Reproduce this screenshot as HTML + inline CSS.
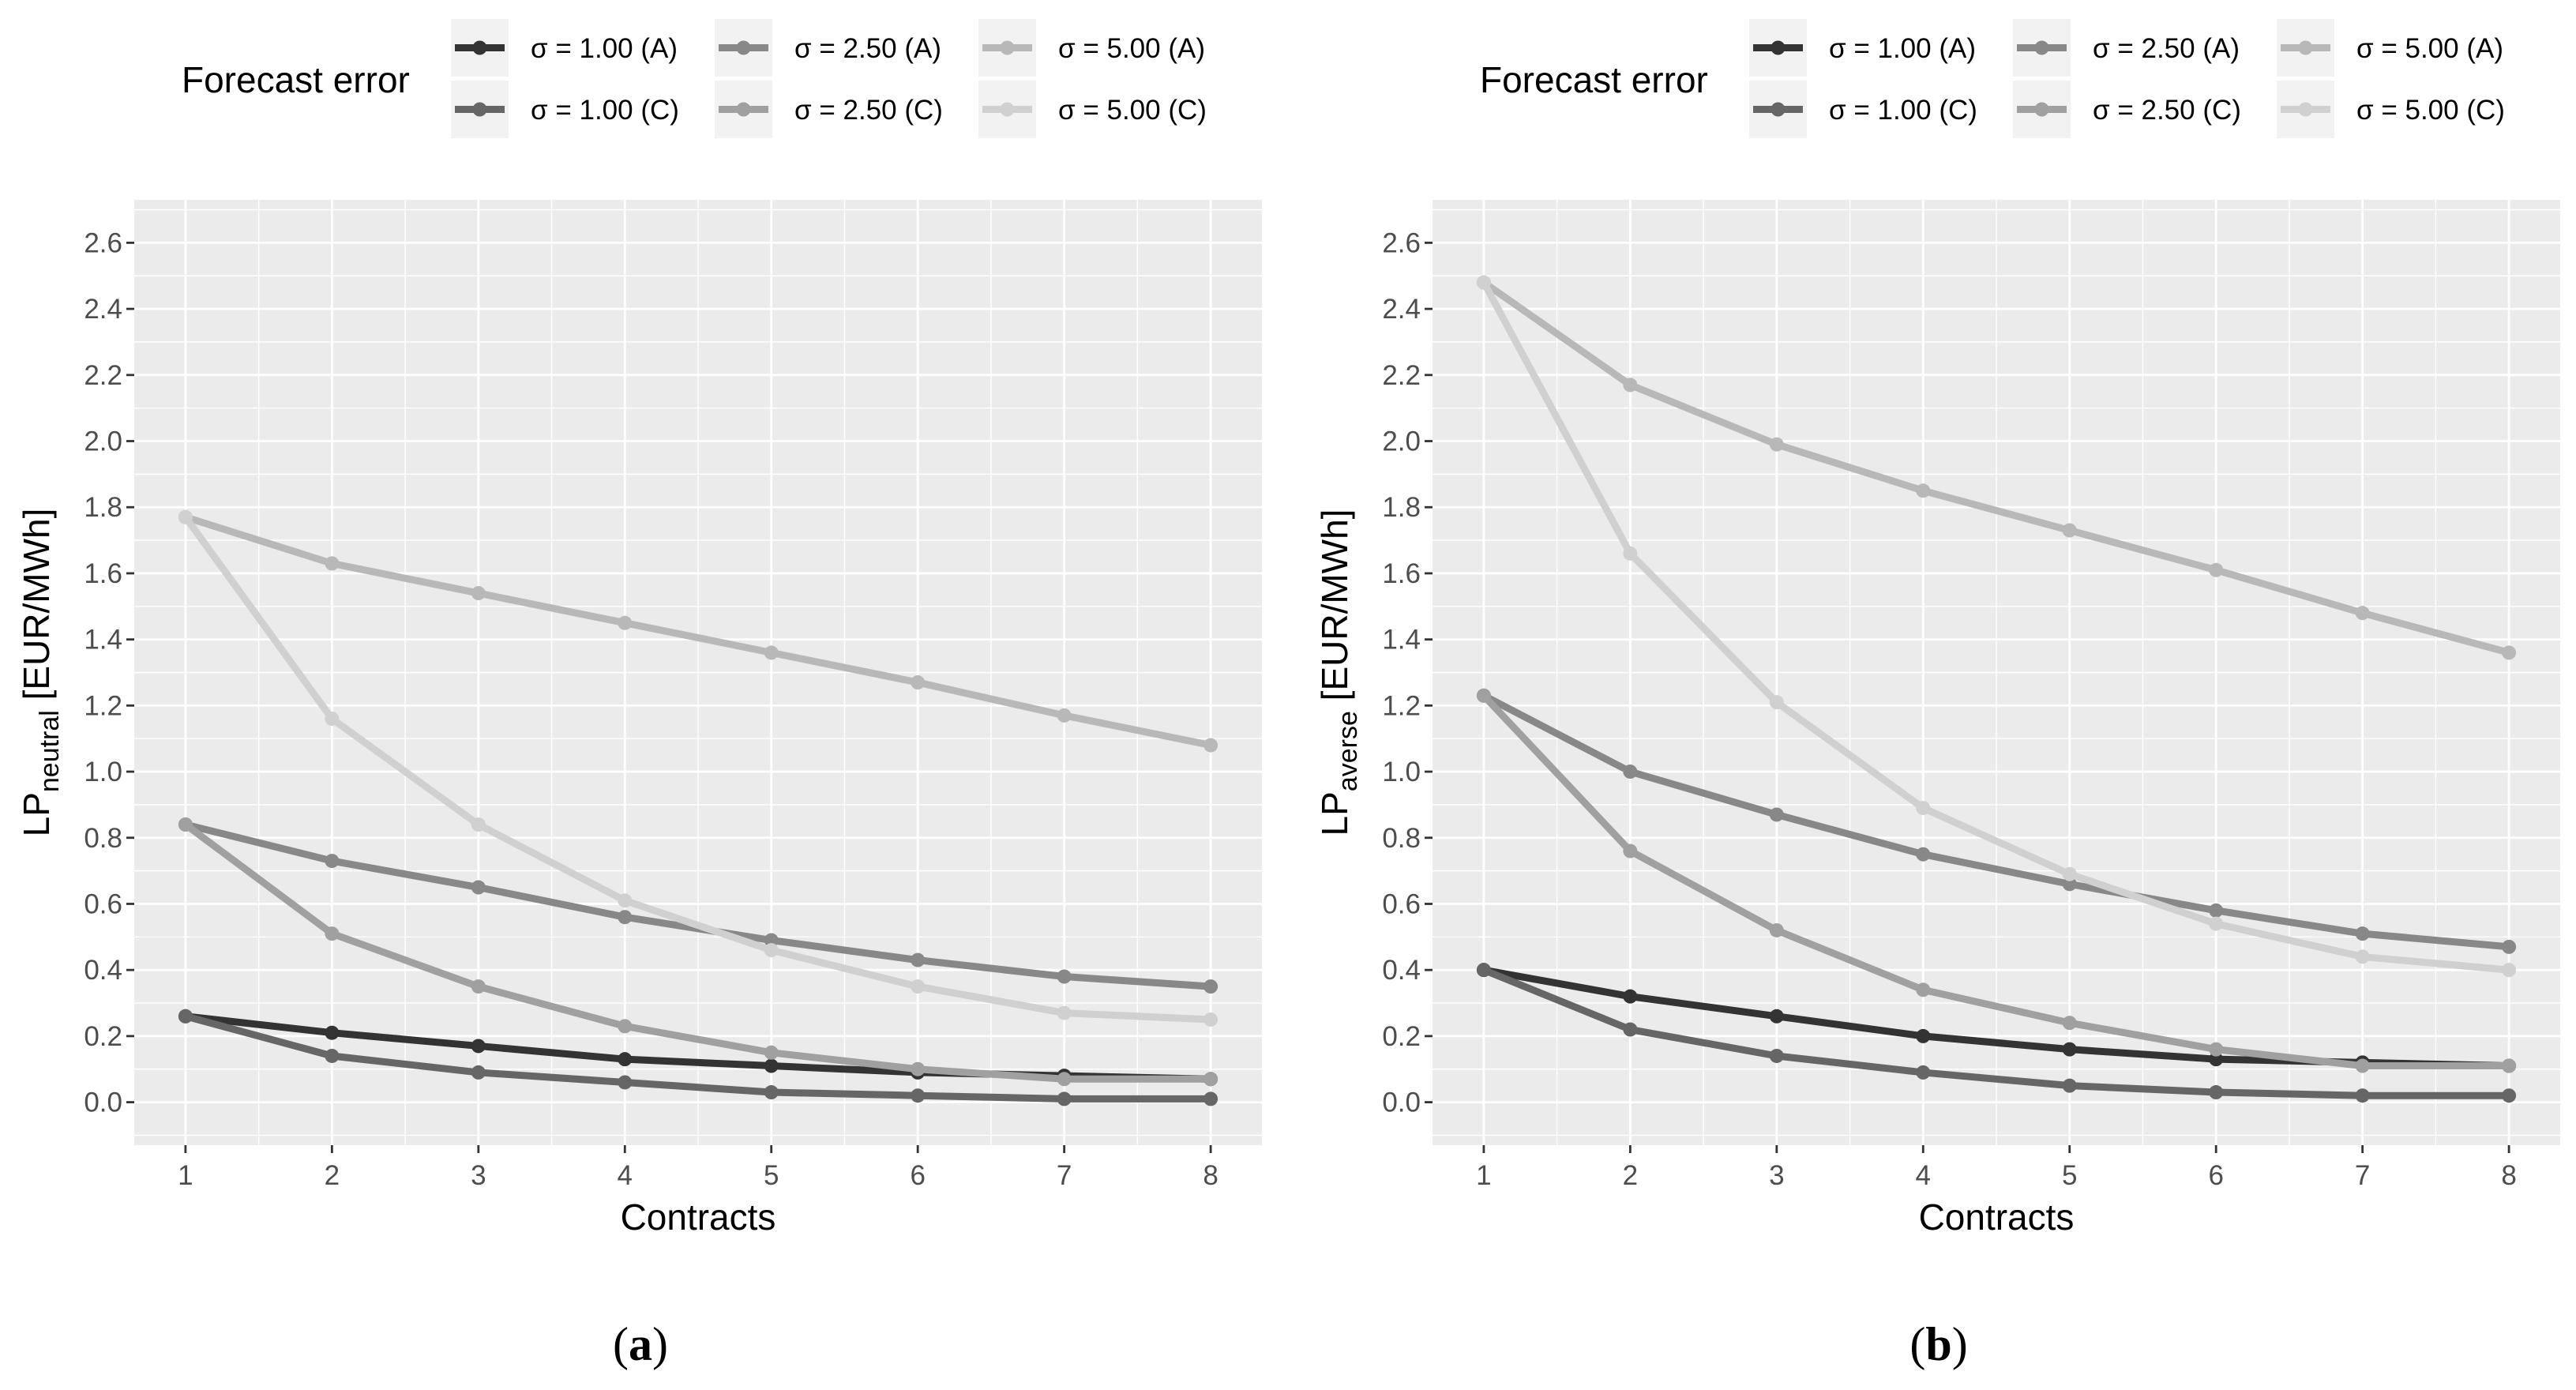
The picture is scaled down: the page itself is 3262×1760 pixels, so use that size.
<!DOCTYPE html>
<html><head><meta charset="utf-8">
<style>
html,body{margin:0;padding:0;background:#fff;}
svg{display:block;font-family:"Liberation Sans",sans-serif;}
</style></head>
<body>
<svg id="fig" width="3262" height="1760" viewBox="0 0 3262 1760" xmlns="http://www.w3.org/2000/svg"></svg>
<script>
const contracts = [1,2,3,4,5,6,7,8];
const yTicks = [0.0,0.2,0.4,0.6,0.8,1.0,1.2,1.4,1.6,1.8,2.0,2.2,2.4,2.6];
const seriesLabels = ["σ = 1.00 (A)","σ = 1.00 (C)","σ = 2.50 (A)","σ = 2.50 (C)","σ = 5.00 (A)","σ = 5.00 (C)"];
const seriesColors = ["#333333","#666666","#888888","#a0a0a0","#b8b8b8","#d0d0d0"];
const neutralA1 = [0.26,0.21,0.17,0.13,0.11,0.09,0.08,0.07];
const neutralC1 = [0.26,0.14,0.09,0.06,0.03,0.02,0.01,0.01];
const neutralA25 = [0.84,0.73,0.65,0.56,0.49,0.43,0.38,0.35];
const neutralC25 = [0.84,0.51,0.35,0.23,0.15,0.10,0.07,0.07];
const neutralA5 = [1.77,1.63,1.54,1.45,1.36,1.27,1.17,1.08];
const neutralC5 = [1.77,1.16,0.84,0.61,0.46,0.35,0.27,0.25];
const averseA1 = [0.40,0.32,0.26,0.20,0.16,0.13,0.12,0.11];
const averseC1 = [0.40,0.22,0.14,0.09,0.05,0.03,0.02,0.02];
const averseA25 = [1.23,1.00,0.87,0.75,0.66,0.58,0.51,0.47];
const averseC25 = [1.23,0.76,0.52,0.34,0.24,0.16,0.11,0.11];
const averseA5 = [2.48,2.17,1.99,1.85,1.73,1.61,1.48,1.36];
const averseC5 = [2.48,1.66,1.21,0.89,0.69,0.54,0.44,0.40];

const NS="http://www.w3.org/2000/svg";
const svg=document.getElementById('fig');
function mk(tag,attrs,parent){const e=document.createElementNS(NS,tag);for(const k in attrs)e.setAttribute(k,attrs[k]);(parent||svg).appendChild(e);return e;}

function panel(off, sub, datasets, tag, prefix){
  const g=mk('g',{});
  
  
  const x0=170+off, x1=1598+off, yTop=253, yBot=1450;
  const xMin=0.65, xMax=8.35, yMin=-0.13, yMax=2.73;
  const X=v=>x0+(v-xMin)/(xMax-xMin)*(x1-x0);
  const Y=v=>yBot-(v-yMin)/(yMax-yMin)*(yBot-yTop);
  const bg=mk('rect',{x:x0,y:yTop,width:x1-x0,height:yBot-yTop,fill:'#ebebeb'},g);
  
  
  for(let i=0;i<yTicks.length+1;i++){const v=-0.1+i*0.2; if(v>yMax)break;
    const l=mk('line',{x1:x0,x2:x1,y1:Y(v),y2:Y(v),stroke:'#fff','stroke-width':1.4},g);
    
    }
  for(let i=0;i<contracts.length-1;i++){const v=(contracts[i]+contracts[i+1])/2;
    const l=mk('line',{x1:X(v),x2:X(v),y1:yTop,y2:yBot,stroke:'#fff','stroke-width':1.4},g);
    
    }
  yTicks.forEach(v=>{
    const l=mk('line',{x1:x0,x2:x1,y1:Y(v),y2:Y(v),stroke:'#fff','stroke-width':2.8},g);
    
    
    const t=mk('line',{x1:x0-10,x2:x0,y1:Y(v),y2:Y(v),stroke:'#333','stroke-width':2.8},g);
    
    
    const tx=mk('text',{x:x0-15,y:Y(v)+12,'text-anchor':'end','font-size':35,fill:'#4d4d4d'},g);
    tx.textContent=v.toFixed(1);
    
    
  });
  contracts.forEach(v=>{
    const l=mk('line',{x1:X(v),x2:X(v),y1:yTop,y2:yBot,stroke:'#fff','stroke-width':2.8},g);
    
    
    const t=mk('line',{x1:X(v),x2:X(v),y1:yBot,y2:yBot+10,stroke:'#333','stroke-width':2.8},g);
    
    
    const tx=mk('text',{x:X(v),y:yBot+50,'text-anchor':'middle','font-size':35,fill:'#4d4d4d'},g);
    tx.textContent=String(v);
    
    
  });
  datasets.forEach((d,si)=>{
    const sg=mk('g',{},g);
    
    
    const pts=d.map((v,i)=>X(contracts[i])+','+Y(v)).join(' ');
    const pl=mk('polyline',{points:pts,fill:'none',stroke:seriesColors[si],'stroke-width':9,'stroke-linejoin':'round'},sg);
    
    
    d.forEach((v,i)=>{
      const c=mk('circle',{cx:X(contracts[i]),cy:Y(v),r:9,fill:seriesColors[si]},sg);
      
      
    });
  });
  const xt=mk('text',{x:(x0+x1)/2,y:1557,'text-anchor':'middle','font-size':46,fill:'#000'},g);
  xt.textContent='Contracts';
  
  
  const cy=(yTop+yBot)/2;
  const yt=mk('text',{x:0,y:0,'text-anchor':'middle','font-size':46,fill:'#000',transform:`translate(${62+off},${cy}) rotate(-90)`},g);
  
  
  const s1=mk('tspan',{},yt);s1.textContent='LP';
  const s2=mk('tspan',{'font-size':34,dy:12},yt);s2.textContent=sub;
  const s3=mk('tspan',{dy:-12},yt);s3.textContent=' [EUR/MWh]';
  const lg=mk('g',{},g);
  
  
  const lt=mk('text',{x:230+off,y:117,'font-size':46,fill:'#000'},lg);
  lt.textContent='Forecast error';
  
  
  const colX=[571,905,1239], rowY=[24,102];
  seriesLabels.forEach((lab,i)=>{
    const col=Math.floor(i/2), row=i%2;
    const kx=colX[col]+off, ky=rowY[row];
    const e=mk('g',{},lg);
    
    
    mk('rect',{x:kx,y:ky,width:73,height:73,fill:'#f2f2f2'},e);
    mk('line',{x1:kx+5,x2:kx+68,y1:ky+36.5,y2:ky+36.5,stroke:seriesColors[i],'stroke-width':9},e);
    mk('circle',{cx:kx+36.5,cy:ky+36.5,r:9,fill:seriesColors[i]},e);
    const t=mk('text',{x:kx+101,y:ky+49,'font-size':35,fill:'#000'},e);
    t.textContent=lab;
  });
  const tg=mk('text',{x:811+off,y:1722,'text-anchor':'middle','font-size':60,'font-family':'Liberation Serif, serif',fill:'#000'},g);
  
  
  const p1=mk('tspan',{},tg);p1.textContent='(';
  const p2=mk('tspan',{'font-weight':'bold'},tg);p2.textContent=tag;
  const p3=mk('tspan',{},tg);p3.textContent=')';
}
panel(0,'neutral',[neutralA1,neutralC1,neutralA25,neutralC25,neutralA5,neutralC5],'a','neutral');
panel(1644,'averse',[averseA1,averseC1,averseA25,averseC25,averseA5,averseC5],'b','averse');
</script>
</body></html>
